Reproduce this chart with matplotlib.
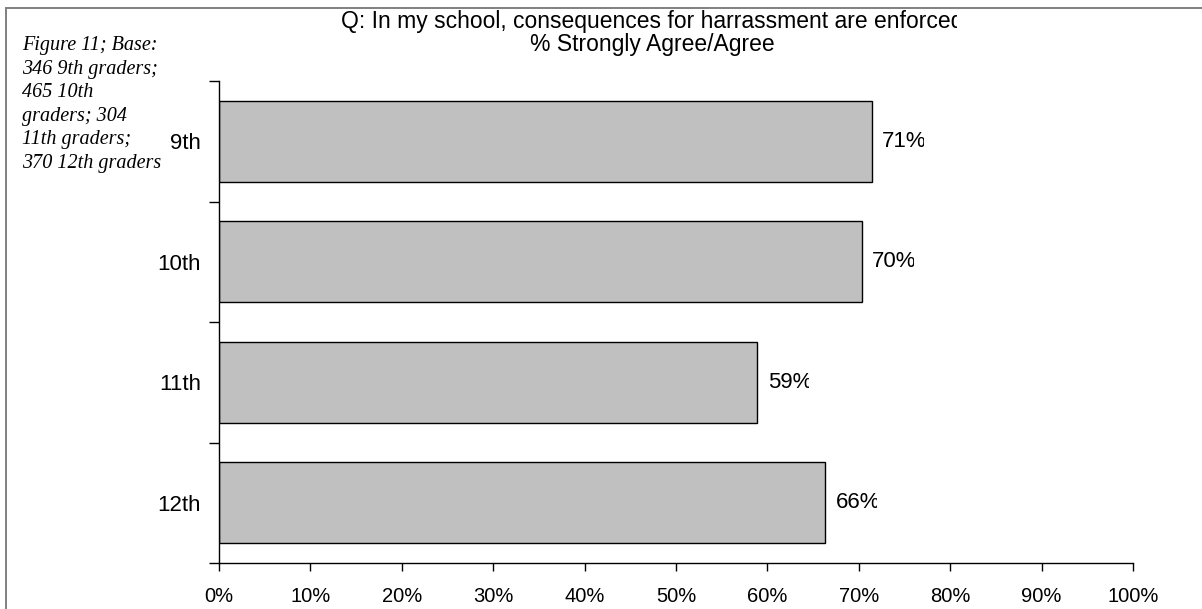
import matplotlib
matplotlib.use("Agg")
import matplotlib.pyplot as plt
from matplotlib.patches import Rectangle
from matplotlib.transforms import Bbox, TransformedBbox
import numpy as np

# Data
grades = ["9th", "10th", "11th", "12th"]
agree_pct = [71.4, 70.3, 58.9, 66.3]
x_ticks = [0, 10, 20, 30, 40, 50, 60, 70, 80, 90, 100]
x_tick_labels = [f"{t}%" for t in x_ticks]
title_lines = ["Q: In my school, consequences for harrassment are enforced",
               "% Strongly Agree/Agree"]
note_lines = ["Figure 11; Base:", "346 9th graders;", "465 10th",
              "graders; 304", "11th graders;", "370 12th graders"]

W, H, DPI = 1202, 609, 100
plt.rcParams["font.family"] = ["Liberation Sans", "DejaVu Sans"]

fig = plt.figure(figsize=(W / DPI, H / DPI), dpi=DPI)
fig.patch.set_facecolor("white")

# Gray frame around the chart area (open toward the right and bottom edges)
fig.add_artist(Rectangle((6 / W, -0.1), 1.2, (H - 8) / H + 0.1,
                         transform=fig.transFigure, fill=False,
                         edgecolor="#808080", linewidth=1.4))

ax = fig.add_axes([219 / W, 1 - 563 / H, (1133 - 219) / W, (563 - 81) / H])

n = len(grades)
ypos = np.arange(n)
ax.barh(ypos, agree_pct, height=0.67, color="#C0C0C0",
        edgecolor="black", linewidth=1.0)

ax.set_xlim(0, 100)
ax.set_ylim(n - 0.5, -0.5)
ax.set_xticks(x_ticks)
ax.set_xticklabels(x_tick_labels, fontsize=14.5)

# Category labels sit between the boundary ticks
ax.set_yticks(np.arange(n + 1) - 0.5)
ax.set_yticklabels([])
ax.set_yticks(ypos, minor=True)
ax.set_yticklabels(grades, minor=True, fontsize=16)
ax.tick_params(axis="y", which="minor", length=0, pad=13)
ax.tick_params(axis="y", which="major", direction="out", length=7, width=1.0)
ax.tick_params(axis="x", direction="out", length=6, width=1.0, pad=11)

for side in ("top", "right"):
    ax.spines[side].set_visible(False)
for side in ("left", "bottom"):
    ax.spines[side].set_linewidth(1.0)

# Value labels, each in a narrow cell that trims the last glyph
for y, v in zip(ypos, agree_pct):
    t = ax.text(v + 1.15, y, f"{v:.0f}%", va="center", ha="left",
                fontsize=16, clip_on=True)
    cell = TransformedBbox(Bbox([[v + 1.0, y - 0.5], [v + 5.7, y + 0.5]]),
                           ax.transData)
    t.set_clip_box(cell)

# Two-line title, trimmed at the right edge of its text box
title = fig.text(652 / W, 1 - 33 / H, "\n".join(title_lines),
                 ha="center", va="center", multialignment="center",
                 fontsize=16.5, linespacing=1.05)
title.set_clip_on(True)
title.set_clip_box(Bbox.from_extents(0, 0, 957, H))

# Base note in italic serif
for i, line in enumerate(note_lines):
    fig.text(22 / W, 1 - (50 + i * 23.6) / H, line, ha="left", va="baseline",
             fontsize=14.5, style="italic",
             family=["Liberation Serif", "DejaVu Serif"])

fig.savefig("out.png", dpi=DPI)
